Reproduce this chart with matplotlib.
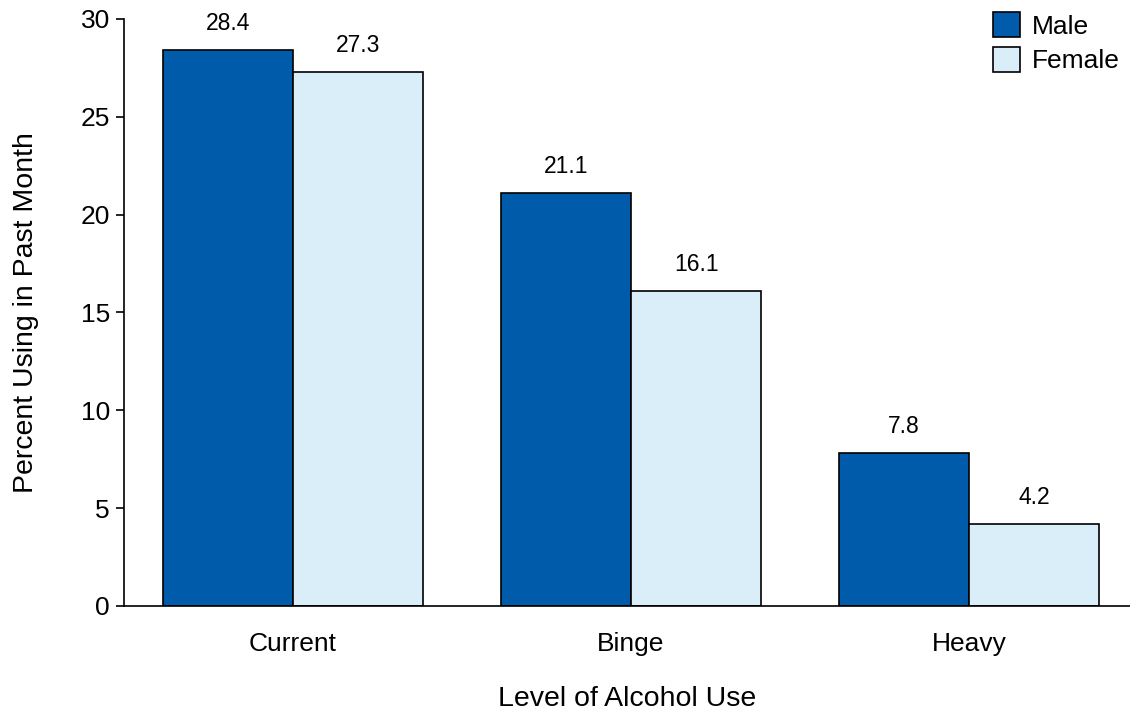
import matplotlib
matplotlib.use("Agg")
import matplotlib.pyplot as plt
import numpy as np
from matplotlib.patches import Patch

plt.rcParams['font.family'] = ['Liberation Sans', 'DejaVu Sans']

categories = ["Current", "Binge", "Heavy"]
male = [28.4, 21.1, 7.8]
female = [27.3, 16.1, 4.2]
yticks = [0, 5, 10, 15, 20, 25, 30]

male_color = "#005BAA"
female_color = "#D9EEF8"

fig = plt.figure(figsize=(11.30, 7.11), dpi=100)
ax = fig.add_axes([0.1097, 0.1477, 0.8903, 0.8256])

x = np.arange(len(categories))
w = 0.385
bm = ax.bar(x - w / 2, male, w, color=male_color, edgecolor="black", linewidth=1.2, zorder=2)
bf = ax.bar(x + w / 2, female, w, color=female_color, edgecolor="black", linewidth=1.2, zorder=2)

for bars, vals in ((bm, male), (bf, female)):
    for b, v in zip(bars, vals):
        ax.annotate(f"{v:.1f}", (b.get_x() + b.get_width() / 2, v),
                    xytext=(0, 11), textcoords="offset points",
                    ha="center", va="bottom", fontsize=16.5)

ax.set_xlim(-0.5, 2.476)
ax.set_ylim(0, 30)
ax.set_yticks(yticks)
ax.set_xticks(x)
ax.set_xticklabels(categories, fontsize=19)
ax.tick_params(axis="x", length=0, pad=19)
ax.tick_params(axis="y", labelsize=19, length=6, width=1.2, pad=4)
for s in ("top", "right"):
    ax.spines[s].set_visible(False)
ax.spines["left"].set_linewidth(1.2)
ax.spines["bottom"].set_linewidth(1.2)

ax.set_ylabel("Percent Using in Past Month", fontsize=20.5, labelpad=30)
ax.set_xlabel("Level of Alcohol Use", fontsize=20.5, labelpad=21)

handles = [Patch(facecolor=male_color, edgecolor="black", linewidth=1.2, label="Male"),
           Patch(facecolor=female_color, edgecolor="black", linewidth=1.2, label="Female")]
ax.legend(handles=handles, loc="upper right", bbox_to_anchor=(1.004, 1.036), frameon=False,
          fontsize=19, handlelength=1.0, handleheight=1.05, handletextpad=0.45,
          labelspacing=0.32, borderaxespad=0.15)

fig.savefig("out.png", dpi=100)
